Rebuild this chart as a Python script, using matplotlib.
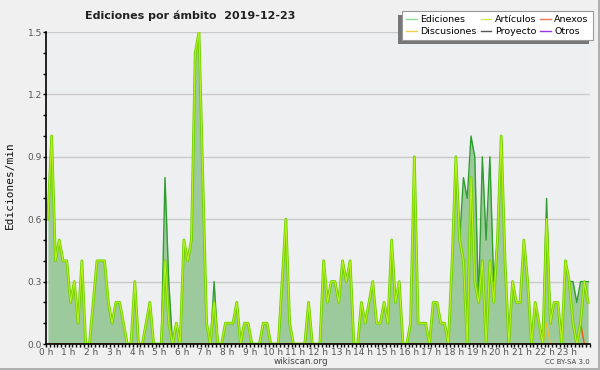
import numpy as np
import matplotlib
matplotlib.use("Agg")
import matplotlib.pyplot as plt
from matplotlib.lines import Line2D
from matplotlib.patches import Rectangle

# ---- data (edits/min per 10-minute slot, 144 slots) ----
ediciones = [
    0.6, 1.0, 0.4, 0.5, 0.4, 0.4, 0.2, 0.3, 0.1, 0.4, 0.0, 0.0,
    0.2, 0.4, 0.4, 0.4, 0.2, 0.1, 0.2, 0.2, 0.1, 0.0, 0.0, 0.3,
    0.0, 0.0, 0.1, 0.2, 0.0, 0.0, 0.0, 0.8, 0.3, 0.0, 0.1, 0.0,
    0.5, 0.4, 0.5, 1.4, 1.5, 0.8, 0.1, 0.0, 0.3, 0.0, 0.0, 0.1,
    0.1, 0.1, 0.2, 0.0, 0.1, 0.1, 0.0, 0.0, 0.0, 0.1, 0.1, 0.0,
    0.0, 0.0, 0.3, 0.6, 0.1, 0.0, 0.0, 0.0, 0.0, 0.2, 0.0, 0.0,
    0.0, 0.4, 0.2, 0.3, 0.3, 0.2, 0.4, 0.3, 0.4, 0.0, 0.0, 0.2,
    0.1, 0.2, 0.3, 0.1, 0.1, 0.2, 0.1, 0.5, 0.2, 0.3, 0.0, 0.0,
    0.1, 0.9, 0.1, 0.1, 0.1, 0.0, 0.2, 0.2, 0.1, 0.1, 0.0, 0.4,
    0.9, 0.5, 0.8, 0.7, 1.0, 0.9, 0.2, 0.9, 0.5, 0.9, 0.3, 0.5,
    1.0, 0.4, 0.0, 0.3, 0.2, 0.2, 0.5, 0.3, 0.0, 0.2, 0.1, 0.0,
    0.7, 0.1, 0.2, 0.2, 0.0, 0.4, 0.3, 0.3, 0.2, 0.3, 0.3, 0.3,
]
articulos = [
    0.6, 1.0, 0.4, 0.5, 0.4, 0.4, 0.2, 0.3, 0.1, 0.4, 0.0, 0.0,
    0.2, 0.4, 0.4, 0.4, 0.2, 0.1, 0.2, 0.2, 0.1, 0.0, 0.0, 0.3,
    0.0, 0.0, 0.1, 0.2, 0.0, 0.0, 0.0, 0.4, 0.1, 0.0, 0.1, 0.0,
    0.5, 0.4, 0.5, 1.4, 1.5, 0.8, 0.1, 0.0, 0.2, 0.0, 0.0, 0.1,
    0.1, 0.1, 0.2, 0.0, 0.1, 0.1, 0.0, 0.0, 0.0, 0.1, 0.1, 0.0,
    0.0, 0.0, 0.3, 0.6, 0.1, 0.0, 0.0, 0.0, 0.0, 0.2, 0.0, 0.0,
    0.0, 0.4, 0.2, 0.3, 0.3, 0.2, 0.4, 0.3, 0.4, 0.0, 0.0, 0.2,
    0.1, 0.2, 0.3, 0.1, 0.1, 0.2, 0.1, 0.5, 0.2, 0.3, 0.0, 0.0,
    0.1, 0.9, 0.1, 0.1, 0.1, 0.0, 0.2, 0.2, 0.1, 0.1, 0.0, 0.4,
    0.9, 0.5, 0.4, 0.0, 0.8, 0.3, 0.2, 0.4, 0.0, 0.4, 0.2, 0.5,
    1.0, 0.4, 0.0, 0.3, 0.2, 0.2, 0.5, 0.3, 0.0, 0.2, 0.1, 0.0,
    0.6, 0.1, 0.2, 0.2, 0.0, 0.4, 0.3, 0.1, 0.0, 0.1, 0.3, 0.2,
]
discusiones_slots = [132]
discusiones_vals = [0.1]
anexos_slots = [141]
anexos_vals = [0.1]

hour_labels = [f"{h} h" for h in range(24)]
ytick_vals = [0.0, 0.3, 0.6, 0.9, 1.2, 1.5]
title = "Ediciones por ámbito  2019-12-23"

# ---- build ----
n = len(ediciones)
x = (np.arange(n) + 0.5) / 6.0
disc = np.zeros(n); disc[discusiones_slots] = discusiones_vals
anex = np.zeros(n); anex[anexos_slots] = anexos_vals

fig = plt.figure(figsize=(6.0, 3.7), dpi=100, facecolor="#f0f0f0")
ax = fig.add_axes([46/600, 1-344/370, 544/600, 312/370])
ax.set_facecolor("#eeeff1")

ax.fill_between(x, ediciones, 0, color="#9dca9d", lw=0, zorder=1.5)
ax.plot(x, ediciones, color="#2e9e2e", lw=1.0, zorder=2)
ax.plot(x, articulos, color="#72d000", lw=2.0, zorder=2.1)
ax.plot(x, articulos, color="#b8f020", lw=0.8, zorder=2.2)
ax.plot(x, disc, color="#f0c020", lw=1.0, zorder=2.05)
ax.plot(x, anex, color="#ee5a10", lw=1.0, zorder=2.06)

ax.set_xlim(0, 24)
ax.set_ylim(0, 1.5)
ax.set_yticks(ytick_vals)
ax.set_yticklabels([f"{v:.1f}" for v in ytick_vals])
ax.set_yticks(np.arange(0, 1.51, 0.1), minor=True)
ax.set_xticks(np.arange(24))
ax.set_xticklabels(hour_labels)
ax.set_xticks(np.arange(0, 24.01, 1/6), minor=True)
ax.tick_params(axis="both", which="both", direction="out", length=2.5, width=1,
               color="black", labelsize=6.5, labelcolor="#555555", pad=0.5)
ax.grid(axis="y", which="major", color="#cbcbcb", lw=1.0, zorder=0.5)
ax.set_axisbelow(True)
for s in ["top", "right"]:
    ax.spines[s].set_visible(False)
for s in ["left", "bottom"]:
    ax.spines[s].set_color("black")
    ax.spines[s].set_linewidth(1.2)
    ax.spines[s].set_zorder(3)

fig.text(10/600, 1-185/370, "Ediciones/min", rotation=90, ha="center", va="center",
         fontsize=8, family="DejaVu Sans Mono", color="#111111")
fig.text(85/600, 1-16/370, title, ha="left", va="center", fontsize=8,
         fontweight="bold", color="#222222")
fig.text(301/600, 1-362/370, "wikiscan.org", ha="center", va="center",
         fontsize=6.3, color="#444444")
fig.text(590/600, 1-362/370, "CC BY-SA 3.0", ha="right", va="center",
         fontsize=5, color="#444444")

handles = [
    Line2D([], [], color="#8fd98f", lw=1),
    Line2D([], [], color="#f8d048", lw=1),
    Line2D([], [], color="#c8f050", lw=1),
    Line2D([], [], color="#555555", lw=1),
    Line2D([], [], color="#f07850", lw=1),
    Line2D([], [], color="#9933ee", lw=1),
]
labels = ["Ediciones", "Discusiones", "Artículos", "Proyecto", "Anexos", "Otros"]
leg = fig.legend(handles, labels, ncol=3, loc="upper right",
                 bbox_to_anchor=(593/600, 1-11/370), fontsize=6.8,
                 frameon=True, fancybox=False, edgecolor="#999999",
                 facecolor="white", framealpha=1, handlelength=1.1,
                 handletextpad=0.4, columnspacing=0.4, labelspacing=0.3,
                 borderpad=0.45, borderaxespad=0)
leg.get_frame().set_linewidth(0.8)
leg.set_zorder(5)

fig.canvas.draw()
bb = leg.get_window_extent().transformed(fig.transFigure.inverted())
fig.patches.append(Rectangle((bb.x0 - 4/600, bb.y0 - 4/370), bb.width, bb.height,
                             transform=fig.transFigure, facecolor="#777777",
                             edgecolor="none", zorder=4))
fig.patches.append(Rectangle((0, 0), 1, 2/370, transform=fig.transFigure,
                             facecolor="#b0b0b0", edgecolor="none"))
fig.patches.append(Rectangle((1-2/600, 0), 2/600, 1, transform=fig.transFigure,
                             facecolor="#b0b0b0", edgecolor="none"))

fig.savefig("out.png", dpi=100, facecolor=fig.get_facecolor())
